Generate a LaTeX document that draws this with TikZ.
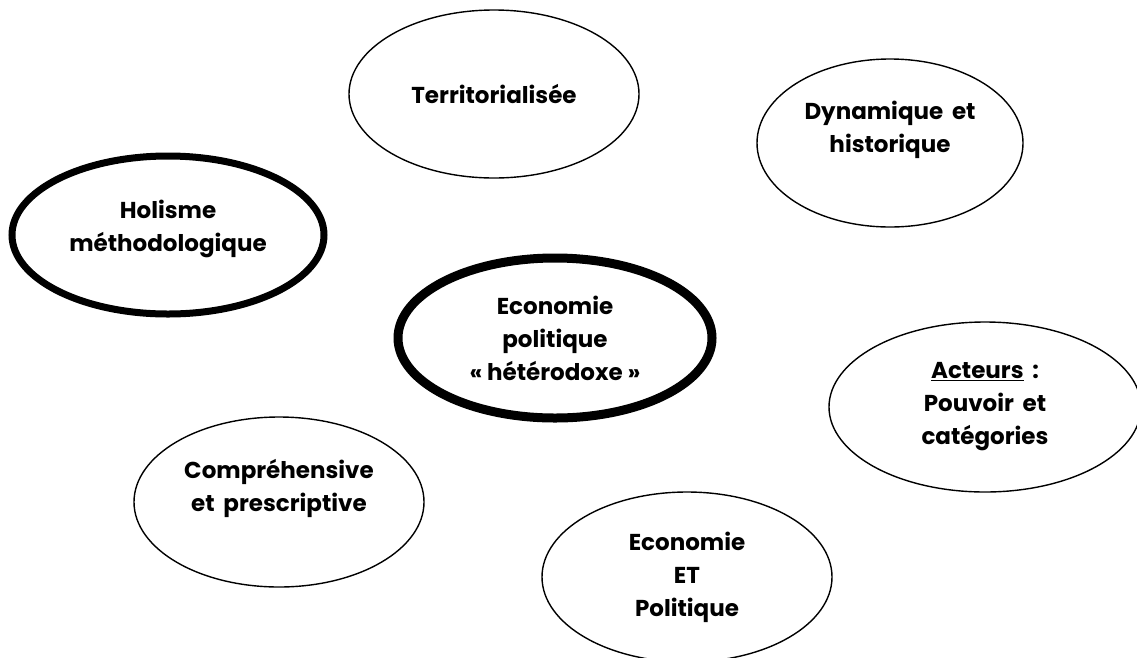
\documentclass[tikz,border=0pt]{standalone}
\usepackage{fontspec}
\setmainfont{Poppins}
\usetikzlibrary{shapes.geometric}
\tikzset{
  bubble/.style={ellipse, draw, line width=1.4pt, inner sep=0pt, align=center,
    font=\bfseries\fontsize{23}{33}\selectfont},
  boldbubble/.style={bubble, line width=7pt},
  heavybubble/.style={bubble, line width=9pt}
}
\begin{document}
\begin{tikzpicture}[x=1pt,y=-1pt]
\useasboundingbox (0,0) rectangle (1137,657);
\node[bubble, minimum width=290pt, minimum height=168pt] (terr) at (494,94) {Territorialisée};
\node[bubble, minimum width=266pt, minimum height=168pt] (dyn) at (890,143) {Dynamique \,et\\historique\\\null};
\node[boldbubble, minimum width=312pt, minimum height=158pt] (hol) at (168,235) {Holisme\\méthodologique\\[-14pt]\null};
\node[heavybubble, minimum width=314pt, minimum height=160pt] (eco) at (555,338) {Economie\\politique\\« hétérodoxe »};
\node[bubble, minimum width=312pt, minimum height=170pt] (act) at (985,407) {\underline{Acteurs} \,:\\Pouvoir \,et\\catégories};
\node[bubble, minimum width=290pt, minimum height=170pt] (comp) at (279,502) {Compréhensive\\et \,prescriptive\\\null};
\node[bubble, minimum width=290pt, minimum height=170pt] (ecoet) at (687,577) {Economie\\ET\\Politique};
\end{tikzpicture}
\end{document}
